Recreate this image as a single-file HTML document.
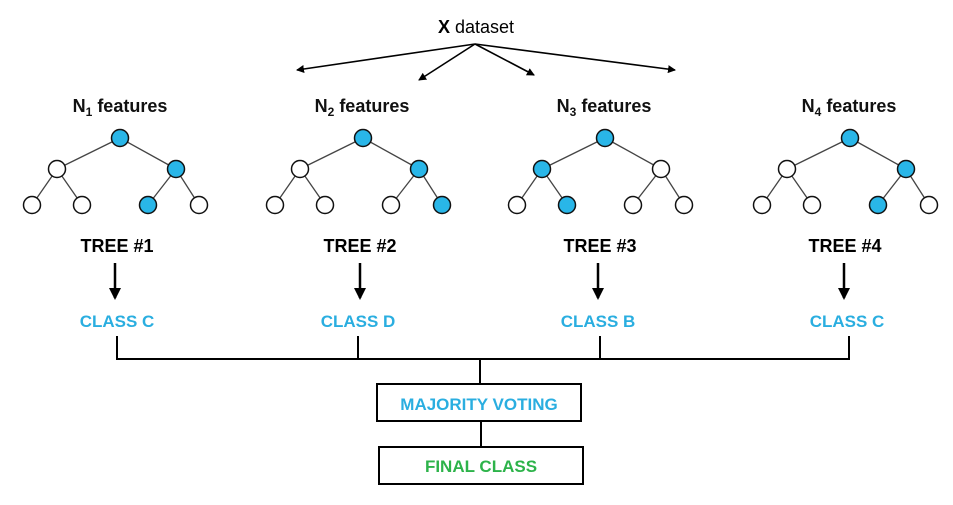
<!DOCTYPE html>
<html><head><meta charset="utf-8"><style>
html,body{margin:0;padding:0;background:#fff;}
svg{display:block;}
text{font-family:"Liberation Sans",Arial,sans-serif;}
</style></head><body>
<svg width="953" height="505" viewBox="0 0 953 505" xmlns="http://www.w3.org/2000/svg">
<defs>
<marker id="ah" markerWidth="8" markerHeight="8" refX="7" refY="4" orient="auto" markerUnits="userSpaceOnUse"><path d="M0,0 L8,4 L0,8 z" fill="#000"/></marker>
<marker id="ahd" markerWidth="12" markerHeight="12" refX="10" refY="6" orient="auto" markerUnits="userSpaceOnUse"><path d="M0,0 L12,6 L0,12 z" fill="#000"/></marker>
</defs>
<text x="476" y="33" font-size="18" text-anchor="middle"><tspan font-weight="bold">X</tspan> dataset</text>
<g stroke="#000" stroke-width="1.6" fill="none">
<line x1="475" y1="44" x2="297" y2="70" marker-end="url(#ah)"/>
<line x1="475" y1="44" x2="419" y2="80" marker-end="url(#ah)"/>
<line x1="475" y1="44" x2="534" y2="75" marker-end="url(#ah)"/>
<line x1="475" y1="44" x2="675" y2="70" marker-end="url(#ah)"/>
</g>
<g font-size="18" font-weight="bold" text-anchor="middle" fill="#111">
<text x="120" y="112">N<tspan font-size="12" dy="4">1</tspan><tspan dy="-4"> features</tspan></text>
<text x="362" y="112">N<tspan font-size="12" dy="4">2</tspan><tspan dy="-4"> features</tspan></text>
<text x="604" y="112">N<tspan font-size="12" dy="4">3</tspan><tspan dy="-4"> features</tspan></text>
<text x="849" y="112">N<tspan font-size="12" dy="4">4</tspan><tspan dy="-4"> features</tspan></text>
</g>
<g stroke="#444" stroke-width="1.3">
<g id="e"><line x1="120" y1="138" x2="57" y2="169"/><line x1="120" y1="138" x2="176" y2="169"/><line x1="57" y1="169" x2="32" y2="205"/><line x1="57" y1="169" x2="82" y2="205"/><line x1="176" y1="169" x2="148" y2="205"/><line x1="176" y1="169" x2="199" y2="205"/></g>
<use href="#e" transform="translate(243,0)"/>
<use href="#e" transform="translate(485,0)"/>
<use href="#e" transform="translate(730,0)"/>
</g>
<g stroke="#111" stroke-width="1.5">
<!-- tree1 -->
<circle cx="120" cy="138" r="8.5" fill="#29b6e8"/><circle cx="57" cy="169" r="8.5" fill="#fff"/><circle cx="176" cy="169" r="8.5" fill="#29b6e8"/>
<circle cx="32" cy="205" r="8.5" fill="#fff"/><circle cx="82" cy="205" r="8.5" fill="#fff"/><circle cx="148" cy="205" r="8.5" fill="#29b6e8"/><circle cx="199" cy="205" r="8.5" fill="#fff"/>
<!-- tree2 -->
<g transform="translate(243,0)">
<circle cx="120" cy="138" r="8.5" fill="#29b6e8"/><circle cx="57" cy="169" r="8.5" fill="#fff"/><circle cx="176" cy="169" r="8.5" fill="#29b6e8"/>
<circle cx="32" cy="205" r="8.5" fill="#fff"/><circle cx="82" cy="205" r="8.5" fill="#fff"/><circle cx="148" cy="205" r="8.5" fill="#fff"/><circle cx="199" cy="205" r="8.5" fill="#29b6e8"/>
</g>
<g transform="translate(485,0)">
<circle cx="120" cy="138" r="8.5" fill="#29b6e8"/><circle cx="57" cy="169" r="8.5" fill="#29b6e8"/><circle cx="176" cy="169" r="8.5" fill="#fff"/>
<circle cx="32" cy="205" r="8.5" fill="#fff"/><circle cx="82" cy="205" r="8.5" fill="#29b6e8"/><circle cx="148" cy="205" r="8.5" fill="#fff"/><circle cx="199" cy="205" r="8.5" fill="#fff"/>
</g>
<g transform="translate(730,0)">
<circle cx="120" cy="138" r="8.5" fill="#29b6e8"/><circle cx="57" cy="169" r="8.5" fill="#fff"/><circle cx="176" cy="169" r="8.5" fill="#29b6e8"/>
<circle cx="32" cy="205" r="8.5" fill="#fff"/><circle cx="82" cy="205" r="8.5" fill="#fff"/><circle cx="148" cy="205" r="8.5" fill="#29b6e8"/><circle cx="199" cy="205" r="8.5" fill="#fff"/>
</g>
</g>
<g font-size="18" font-weight="bold" text-anchor="middle" fill="#000">
<text x="117" y="252">TREE #1</text><text x="360" y="252">TREE #2</text><text x="600" y="252">TREE #3</text><text x="845" y="252">TREE #4</text>
</g>
<g stroke="#000" stroke-width="2.5">
<line x1="115" y1="263" x2="115" y2="298" marker-end="url(#ahd)"/>
<line x1="360" y1="263" x2="360" y2="298" marker-end="url(#ahd)"/>
<line x1="598" y1="263" x2="598" y2="298" marker-end="url(#ahd)"/>
<line x1="844" y1="263" x2="844" y2="298" marker-end="url(#ahd)"/>
</g>
<g font-size="17" font-weight="bold" text-anchor="middle" fill="#2aaee0">
<text x="117" y="327">CLASS C</text><text x="358" y="327">CLASS D</text><text x="598" y="327">CLASS B</text><text x="847" y="327">CLASS C</text>
</g>
<g stroke="#000" stroke-width="2" fill="none">
<polyline points="117,336 117,359 849,359 849,336"/>
<line x1="358" y1="336" x2="358" y2="359"/>
<line x1="600" y1="336" x2="600" y2="359"/>
<line x1="480" y1="359" x2="480" y2="384"/>
<line x1="481" y1="421" x2="481" y2="447"/>
<rect x="377" y="384" width="204" height="37"/>
<rect x="379" y="447" width="204" height="37"/>
</g>
<text x="479" y="410" font-size="17" font-weight="bold" text-anchor="middle" fill="#2aaee0">MAJORITY VOTING</text>
<text x="481" y="472" font-size="17" font-weight="bold" text-anchor="middle" fill="#2db34a">FINAL CLASS</text>
</svg>
</body></html>
